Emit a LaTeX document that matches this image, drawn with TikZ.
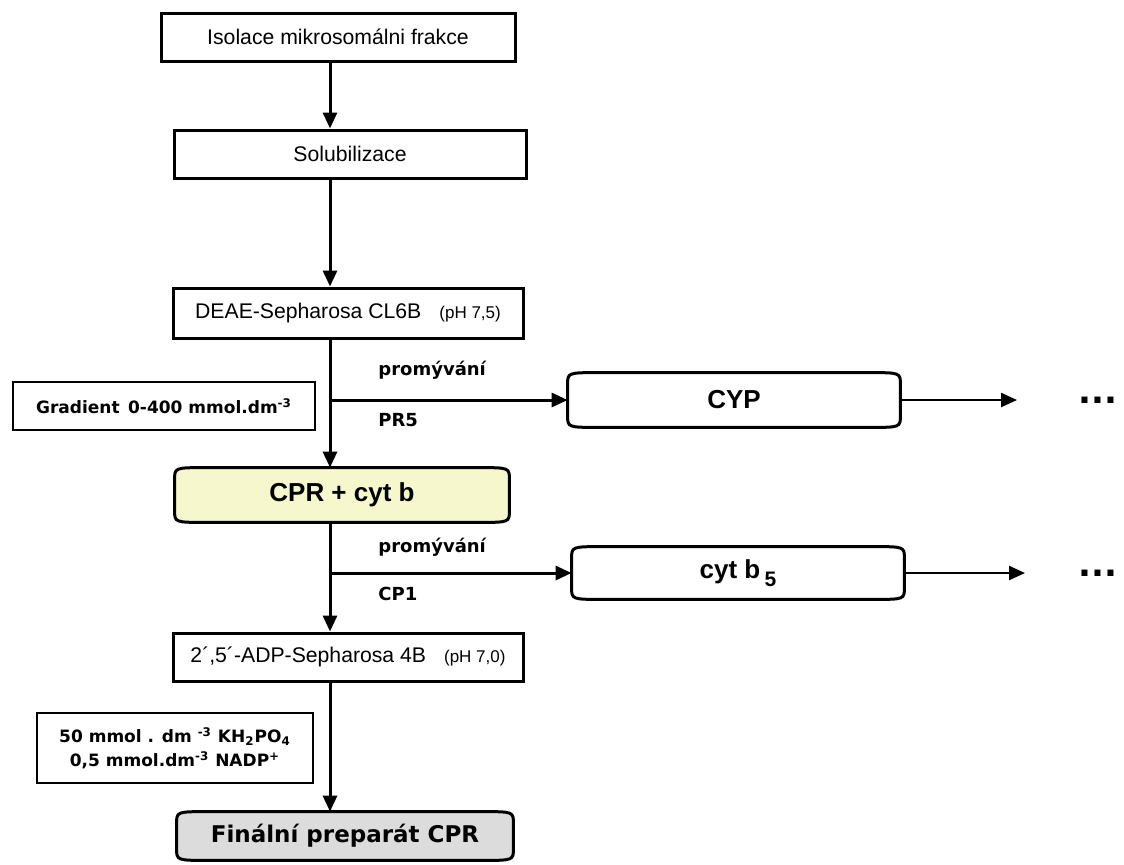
\documentclass[tikz,border=0pt]{standalone}
\usepackage{fontspec}
\setmainfont{Liberation Sans}
\newfontfamily\wideface{DejaVu Sans}
\usetikzlibrary{arrows.meta,backgrounds}

\definecolor{cprfill}{RGB}{246,247,204}
\definecolor{finalfill}{RGB}{220,220,220}

% outline with curved corners round a named node
\newcommand{\capsule}[2][white]{%
  \filldraw[line width=1.5pt, fill=#1]
    ([xshift=16pt]#2.north west) -- ([xshift=-16pt]#2.north east)
    .. controls (#2.north east) .. ([yshift=-6pt]#2.north east)
    -- ([yshift=6pt]#2.south east)
    .. controls (#2.south east) .. ([xshift=-16pt]#2.south east)
    -- ([xshift=16pt]#2.south west)
    .. controls (#2.south west) .. ([yshift=6pt]#2.south west)
    -- ([yshift=-6pt]#2.north west)
    .. controls (#2.north west) .. cycle;}

\begin{document}
\begin{tikzpicture}[x=0.5pt, y=-0.5pt,
    stepbox/.style={draw, line width=1.5pt, minimum height=24pt, inner sep=2pt,
      font=\fontsize{10.6}{12}\selectfont},
    notebox/.style={draw, line width=0.6pt, minimum height=24pt, align=center,
      font=\wideface\bfseries\fontsize{8.5}{12}\selectfont},
    capbox/.style={minimum height=27pt, font=\bfseries\fontsize{13}{15}\selectfont},
    washlabel/.style={anchor=west, inner sep=0pt, font=\wideface\bfseries\fontsize{9}{11}\selectfont},
    flow/.style={line width=1.5pt, -{Triangle[length=8pt,width=7pt]}},
    sideflow/.style={line width=1.2pt, -{Triangle[length=8pt,width=7pt]}}]
    \useasboundingbox (0,0) rectangle (1124,864);

    % main column
    \node[stepbox, minimum width=177pt] (isolace) at (338,37) {Isolace mikrosomálni frakce};
    \node[stepbox, minimum width=176pt] (solub) at (350,154) {Solubilizace};
    \node[stepbox, minimum width=175pt, minimum height=25pt] (deae) at (348,313)
      {DEAE-Sepharosa CL6B\hspace{9pt}{\fontsize{8.5}{10}\selectfont(pH 7,5)}};
    \node[capbox, minimum width=167pt] (cpr) at (342,495) {CPR + cyt b};
    \node[stepbox, minimum width=175pt] (adp) at (348,657)
      {2´,5´-ADP-Sepharosa 4B\hspace{9pt}{\fontsize{8.5}{10}\selectfont(pH 7,0)}};
    \node[capbox, minimum width=168pt, minimum height=24pt,
      font=\wideface\bfseries\fontsize{11.5}{14}\selectfont] (final) at (345,836) {Finální preparát CPR};
    \coordinate (axis) at (330,0);

    % side branches
    \node[capbox, minimum width=166pt] (cyp) at (734,400) {CYP};
    \node[capbox, minimum width=166pt, minimum height=26pt] (cytb) at (738,573)
      {cyt b\,\raisebox{-0.6ex}{\fontsize{10.5}{10}\selectfont 5}};
    \coordinate (cypend) at (1017,400);
    \coordinate (cytbend) at (1025,573);
    \node[font=\wideface\bfseries\fontsize{17}{17}\selectfont] (dotsa) at (1098,400) {...};
    \node[font=\wideface\bfseries\fontsize{17}{17}\selectfont] (dotsb) at (1098,573) {...};

    % labels
    \node[washlabel] (wash1) at (378,370) {promývání};
    \node[washlabel] (pr5) at (378,420) {PR5};
    \node[washlabel] (wash2) at (378,547) {promývání};
    \node[washlabel] (cp1) at (378,594) {CP1};
    \node[notebox, minimum width=151pt] (gradient) at (164,406)
      {Gradient\hspace{0.5em}0-400 mmol.dm\textsuperscript{-3}};
    \node[notebox, minimum width=138pt, minimum height=35pt, line width=0.8pt] (buffer) at (175,748)
      {50 mmol . dm \textsuperscript{-3} KH\textsubscript{2}PO\textsubscript{4}\\
       0,5 mmol.dm\textsuperscript{-3} NADP\textsuperscript{+}};

    \begin{scope}[on background layer]
      \capsule{cyp}
      \capsule{cytb}
      \capsule[cprfill]{cpr}
      \capsule[finalfill]{final}
    \end{scope}

    % arrows
    \draw[flow] (isolace.south -| axis) -- (solub.north -| axis);
    \draw[flow] (solub.south -| axis) -- (deae.north -| axis);
    \draw[flow] (deae.south -| axis) -- (cpr.north -| axis);
    \draw[flow] (axis |- cyp) -- (cyp.west);
    \draw[flow] (cpr.south -| axis) -- (adp.north -| axis);
    \draw[flow] (axis |- cytb) -- (cytb.west);
    \draw[flow] (adp.south -| axis) -- (final.north -| axis);
    \draw[sideflow] (cyp.east) -- (cypend);
    \draw[sideflow] (cytb.east) -- (cytbend);
\end{tikzpicture}
\end{document}
